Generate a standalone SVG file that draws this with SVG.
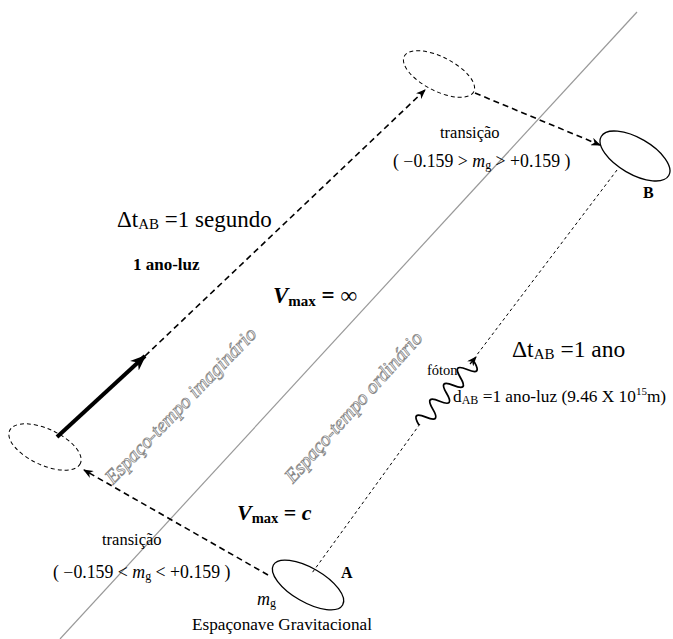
<svg xmlns="http://www.w3.org/2000/svg" width="673" height="639" viewBox="0 0 673 639" font-family="'Liberation Serif', 'DejaVu Serif', 'Times New Roman', serif">
<style>
text{font-family:'Liberation Serif','DejaVu Serif',serif;fill:#000}
.b{font-weight:bold}
.i{font-style:italic}
.dash{fill:none;stroke:#000;stroke-width:1.6;stroke-dasharray:6,4}
.dot{fill:none;stroke:#000;stroke-width:1;stroke-dasharray:3,3}
.del{fill:none;stroke:#000;stroke-width:1;stroke-dasharray:4,3}
.sol{fill:none;stroke:#000;stroke-width:1.3}
.hollow{fill:#fff;stroke:#888;stroke-width:0.8;font-size:20px;font-style:italic}
</style>
<defs>
<marker id="ah" viewBox="0 0 10 8" refX="9" refY="4" markerWidth="10" markerHeight="8" markerUnits="userSpaceOnUse" orient="auto">
<path d="M0,0 L10,4 L0,8 L3,4 z" fill="#000"/>
</marker>
<marker id="ahb" viewBox="0 0 10 8" refX="9" refY="4" markerWidth="16" markerHeight="13" markerUnits="userSpaceOnUse" orient="auto">
<path d="M0,0 L10,4 L0,8 L3,4 z" fill="#000"/>
</marker>
</defs>

<line x1="637" y1="12" x2="60" y2="639" stroke="#999" stroke-width="1.2"/>

<g id="connectors">
<line class="dash" x1="268" y1="575" x2="84" y2="470" marker-end="url(#ah)"/>
<line x1="57" y1="437" x2="145" y2="356" stroke="#000" stroke-width="4" marker-end="url(#ahb)"/>
<line class="dash" x1="145" y1="356" x2="425" y2="90" marker-end="url(#ah)"/>
<line class="dash" x1="475" y1="93" x2="600" y2="145" marker-end="url(#ah)"/>
<line class="dot" x1="617" y1="170" x2="476" y2="356"/>
<line class="dot" x1="420" y1="424" x2="312" y2="573"/>
<path d="M0,0 q5.25,-16 10.5,0 t10.5,0 t10.5,0 t10.5,0 t10.5,0 t10.5,0 t10.5,0 t10.5,0" transform="translate(419,425) rotate(-49)" fill="none" stroke="#000" stroke-width="1.8"/>
<line x1="470" y1="364" x2="476" y2="357" stroke="#000" stroke-width="1.2" marker-end="url(#ah)"/>
</g>

<g id="node-top">
<ellipse class="del" cx="439" cy="74" rx="39" ry="17" transform="rotate(27 439 74)"/>
</g>
<g id="node-B">
<ellipse class="sol" cx="635" cy="156" rx="39" ry="18" transform="rotate(30 635 156)"/>
<text class="b" x="643" y="198" font-size="16">B</text>
</g>
<g id="node-left">
<ellipse class="del" cx="45" cy="447" rx="39" ry="18" transform="rotate(25 45 447)"/>
</g>
<g id="node-A">
<ellipse class="sol" cx="308" cy="585" rx="40" ry="17" transform="rotate(30 308 585)"/>
<text class="b" x="341" y="578" font-size="16">A</text>
<text x="257" y="605" font-size="18"><tspan class="i">m</tspan><tspan font-size="12" dy="2">g</tspan></text>
<text x="192" y="630" font-size="17.2">Espaçonave Gravitacional</text>
</g>

<g id="labels">
<text x="440" y="138" font-size="16.5">transição</text>
<text x="393" y="167" font-size="17.8">( −0.159 &gt; <tspan class="i">m</tspan><tspan font-size="12" dy="2">g</tspan><tspan dy="-2"> &gt; +0.159 )</tspan></text>
<text x="117" y="227" font-size="23">Δt<tspan font-size="15" dy="2">AB</tspan><tspan dy="-2"> =1 segundo</tspan></text>
<text class="b" x="133" y="270" font-size="17">1 ano-luz</text>
<text class="b" x="273" y="303" font-size="23"><tspan class="i">V</tspan><tspan font-size="15" dy="3">max</tspan><tspan dy="-3"> = ∞</tspan></text>
<text class="hollow" x="113" y="485" transform="rotate(-46 113 485)">Espaço-tempo imaginário</text>
<text class="hollow" x="293" y="484" transform="rotate(-48 293 484)">Espaço-tempo ordinário</text>
<text x="512" y="357" font-size="23.5">Δt<tspan font-size="15" dy="2">AB</tspan><tspan dy="-2"> =1 ano</tspan></text>
<text x="427" y="375" font-size="14.5">fóton</text>
<text x="453" y="402" font-size="17.3">d<tspan font-size="12" dy="2">AB</tspan><tspan dy="-2"> =1 ano-luz (9.46 X 10</tspan><tspan font-size="11" dy="-7">15</tspan><tspan dy="7">m)</tspan></text>
<text class="b" x="237" y="520" font-size="22"><tspan class="i">V</tspan><tspan font-size="14.5" dy="3">max</tspan><tspan dy="-3"> = </tspan><tspan class="i">c</tspan></text>
<text x="102" y="545" font-size="16.5">transição</text>
<text x="53" y="578" font-size="17.8">( −0.159 &lt; <tspan class="i">m</tspan><tspan font-size="12" dy="2">g</tspan><tspan dy="-2"> &lt; +0.159 )</tspan></text>
</g>
</svg>
